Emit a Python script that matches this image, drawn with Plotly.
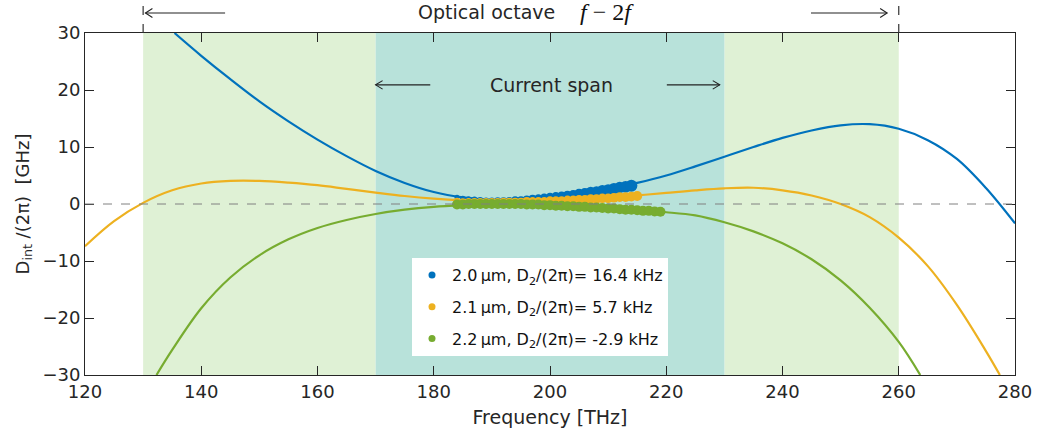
import plotly.graph_objects as go

# Integrated dispersion curves (simulated), GHz vs THz
f_blue = [135.4, 140, 145, 150, 155, 160, 165, 170, 175, 180, 185, 190, 195, 200, 205, 210,
          215, 220, 225, 230, 235, 240, 245, 250, 255, 260, 265, 270, 275, 280]
d_blue = [30.0, 26.0, 21.9, 18.0, 14.5, 11.3, 8.4, 5.8, 3.7, 2.1, 1.15, 0.7, 0.7, 1.1, 1.7,
          2.6, 3.7, 5.0, 6.6, 8.3, 10.0, 11.6, 12.9, 13.8, 14.0, 13.2, 11.2, 7.9, 2.8, -3.4]

f_orange = [120, 125, 130, 135, 140, 145, 150, 155, 160, 165, 170, 175, 180, 185, 190, 195,
            200, 205, 210, 215, 220, 225, 230, 235, 240, 245, 250, 255, 260, 265, 270, 275,
            277.4]
d_orange = [-7.4, -3.0, 0.2, 2.4, 3.6, 4.05, 4.05, 3.75, 3.3, 2.65, 2.0, 1.4, 0.95, 0.65, 0.5,
            0.5, 0.6, 0.8, 1.1, 1.5, 1.95, 2.4, 2.75, 2.85, 2.4, 1.5, 0.0, -2.3, -5.9, -10.9,
            -17.7, -25.8, -30.0]

f_green = [132.3, 135, 140, 145, 150, 155, 160, 165, 170, 175, 180, 185, 190, 195, 200, 205,
           210, 215, 220, 225, 230, 235, 240, 245, 250, 255, 260, 263.7]
d_green = [-30.0, -25.6, -18.3, -12.9, -9.0, -6.2, -4.2, -2.8, -1.75, -1.0, -0.5, -0.2, 0.0,
           0.1, 0.0, -0.35, -0.75, -1.1, -1.45, -2.0, -3.2, -4.8, -6.9, -9.7, -13.4, -18.2,
           -24.2, -30.0]

# Measured resonances
fm_blue = [184, 185, 186, 187, 188, 189, 190, 191, 192, 193, 194, 195, 196, 197, 198, 199, 200,
           201, 202, 203, 204, 205, 206, 207, 208, 209, 210, 211, 212, 213, 214]
dm_blue = [1.2, 1.0, 0.9, 0.8, 0.7, 0.6, 0.6, 0.6, 0.6, 0.6, 0.7, 0.7, 0.8, 0.9, 1.0, 1.1, 1.2,
           1.3, 1.4, 1.5, 1.6, 1.8, 1.9, 2.1, 2.2, 2.4, 2.5, 2.7, 2.9, 3.0, 3.2]

fm_orange = [184, 185, 186, 187, 188, 189, 190, 191, 192, 193, 194, 195, 196, 197, 198, 199,
             200, 201, 202, 203, 204, 205, 206, 207, 208, 209, 210, 211, 212, 213, 214, 215]
dm_orange = [0.5, 0.4, 0.4, 0.4, 0.4, 0.4, 0.4, 0.4, 0.4, 0.4, 0.4, 0.4, 0.5, 0.5, 0.5, 0.5,
             0.6, 0.6, 0.6, 0.7, 0.7, 0.8, 0.8, 0.9, 0.9, 1.0, 1.0, 1.1, 1.2, 1.2, 1.3, 1.4]

fm_green = [184, 185, 186, 187, 188, 189, 190, 191, 192, 193, 194, 195, 196, 197, 198, 199,
            200, 201, 202, 203, 204, 205, 206, 207, 208, 209, 210, 211, 212, 213, 214, 215,
            216, 217, 218, 219]
dm_green = [-0.1, -0.1, 0.0, 0.0, 0.0, 0.0, 0.0, 0.0, 0.0, 0.0, 0.0, 0.0, -0.1, -0.1, -0.1,
            -0.2, -0.2, -0.3, -0.3, -0.4, -0.4, -0.5, -0.5, -0.6, -0.6, -0.7, -0.8, -0.8, -0.9,
            -1.0, -1.0, -1.1, -1.2, -1.2, -1.3, -1.35]

labels = ["2.0\u2009\u03bcm, D<sub>2</sub>/(2\u03c0)= 16.4 kHz",
          "2.1\u2009\u03bcm, D<sub>2</sub>/(2\u03c0)= 5.7 kHz",
          "2.2\u2009\u03bcm, D<sub>2</sub>/(2\u03c0)= -2.9 kHz"]

octave = (130, 260)
span = (170, 230)

BLUE, ORANGE, GREEN = "#0072BD", "#EDB120", "#77AC30"
FONT = "DejaVu Sans"
INK = "#262626"

fig = go.Figure()

for fx, dy, c in [(f_blue, d_blue, BLUE), (f_orange, d_orange, ORANGE), (f_green, d_green, GREEN)]:
    fig.add_trace(go.Scatter(x=fx, y=dy, mode="lines",
                             line=dict(color=c, width=2.2, shape="spline", smoothing=1.0),
                             showlegend=False, hoverinfo="skip"))

n_b = len(fm_blue)
sizes_b = [5 + 7 * i / (n_b - 1) for i in range(n_b)]
n_o = len(fm_orange)
sizes_o = [7 + 3 * i / (n_o - 1) for i in range(n_o)]
for fx, dy, c, s in [(fm_blue, dm_blue, BLUE, sizes_b),
                     (fm_orange, dm_orange, ORANGE, sizes_o),
                     (fm_green, dm_green, GREEN, 10)]:
    fig.add_trace(go.Scatter(x=fx, y=dy, mode="markers", showlegend=False,
                             marker=dict(color=c, size=s, opacity=1, line=dict(width=0))))

# Legend entries (small dots)
for i, (c, lab) in enumerate(zip([BLUE, ORANGE, GREEN], labels)):
    fig.add_trace(go.Scatter(x=[None], y=[None], mode="markers", name=lab, legendgroup=f"g{i}",
                             marker=dict(color=c, size=7)))

# Shaded bands
fig.add_shape(type="rect", xref="x", yref="paper", x0=octave[0], x1=span[0], y0=0, y1=1,
              fillcolor="#DFF1D5", line=dict(width=0), layer="below")
fig.add_shape(type="rect", xref="x", yref="paper", x0=span[1], x1=octave[1], y0=0, y1=1,
              fillcolor="#DFF1D5", line=dict(width=0), layer="below")
fig.add_shape(type="rect", xref="x", yref="paper", x0=span[0], x1=span[1], y0=0, y1=1,
              fillcolor="#B8E2DA", line=dict(width=0), layer="below")

# Zero reference
fig.add_shape(type="line", xref="paper", yref="y", x0=0, x1=1, y0=0, y1=0,
              line=dict(color="#808080", width=1, dash="dash"))

# Octave markers above the axes
for xv in octave:
    fig.add_shape(type="line", xref="x", yref="paper", x0=xv, x1=xv, y0=1, y1=1.1,
                  line=dict(color="#333333", width=1.2, dash="dash"))


def arrow(x_tail, x_head, y, yref):
    fig.add_shape(type="line", xref="x", yref=yref, x0=x_tail, x1=x_head, y0=y, y1=y,
                  line=dict(color="#222222", width=1.1))
    d = 1.2 if x_head > x_tail else -1.2
    h = 0.013 if yref == "paper" else 0.75
    fig.add_shape(type="path", xref="x", yref=yref,
                  path=f"M {x_head - d},{y + h} L {x_head},{y} L {x_head - d},{y - h}",
                  line=dict(color="#222222", width=1.1))


arrow(144.1, 130.4, 1.0585, "paper")
arrow(244.9, 258.0, 1.0585, "paper")
arrow(179.4, 170.0, 20.9, "y")
arrow(220.1, 229.2, 20.9, "y")

fig.add_annotation(x=(486 - 85) / 930, y=(375 - 12) / 342, xref="paper", yref="paper",
                   xanchor="center", yanchor="middle", text="Optical octave", showarrow=False,
                   font=dict(family=FONT, size=19, color=INK))
fig.add_annotation(x=(607 - 85) / 930, y=(375 - 12) / 342, xref="paper", yref="paper",
                   xanchor="center", yanchor="middle", text="<i>f</i> \u2212 2<i>f</i>",
                   showarrow=False, font=dict(family="Liberation Serif", size=24, color="#111111"))
fig.add_annotation(x=200.2, y=20.9, xref="x", yref="y", text="Current span", showarrow=False,
                   xanchor="center", yanchor="middle",
                   font=dict(family=FONT, size=19, color=INK))

fig.update_layout(
    width=1038, height=445,
    margin=dict(l=85, r=23, t=33, b=70),
    paper_bgcolor="white", plot_bgcolor="white",
    font=dict(family=FONT, size=17, color=INK),
    legend=dict(x=(412 - 85) / 930, y=(375 - 258) / 342, xanchor="left", yanchor="top",
                bgcolor="white", borderwidth=0, tracegroupgap=8,
                font=dict(family=FONT, size=16, color="#111111")),
    xaxis=dict(range=[120, 280], tickvals=list(range(120, 281, 20)), ticks="inside", ticklen=9,
               tickcolor=INK, showline=True, linecolor=INK, linewidth=1, mirror="ticks",
               showgrid=False, zeroline=False, tickfont=dict(size=18), automargin=False,
               title=dict(text="Frequency [THz]", font=dict(size=19), standoff=10)),
    yaxis=dict(range=[-30, 30], tickvals=list(range(-30, 31, 10)), ticks="inside", ticklen=9,
               tickcolor=INK, showline=True, linecolor=INK, linewidth=1, mirror="ticks",
               showgrid=False, zeroline=False, tickfont=dict(size=18), automargin=False,
               title=dict(text="D<sub>int</sub> /(2\u03c0)  [GHz]", font=dict(size=18), standoff=8)),
)

fig.write_html("out.html")
